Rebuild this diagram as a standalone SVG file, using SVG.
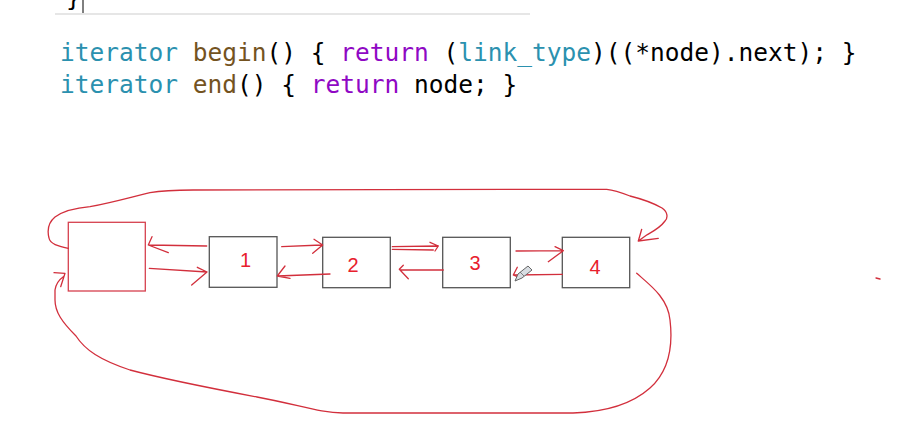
<svg xmlns="http://www.w3.org/2000/svg" width="915" height="423" viewBox="0 0 915 423">
<style>
.code{font-family:"DejaVu Sans Mono","Liberation Mono",monospace;font-size:24.5px;fill:#000}
.ty{fill:#2b91af}
.fn{fill:#74531f}
.kw{fill:#8f08c4}
.ink{fill:none;stroke:#d22f3c;stroke-width:1.3;stroke-linecap:round;stroke-linejoin:round}
.box{fill:#fff;stroke:#555;stroke-width:1.3}
.head{fill:#fff;stroke:#d6404e;stroke-width:1.3}
.num{font-family:"Liberation Sans",Arial,sans-serif;font-size:20px;fill:#e8202c;text-anchor:middle}
</style>
<rect width="915" height="423" fill="#fff"/>
<g id="editor-top">
<line x1="55" y1="14" x2="530" y2="14" stroke="#e6e6e6" stroke-width="2"/>
<text class="code" x="66" y="6">}</text>
<line x1="83" y1="0" x2="83" y2="13" stroke="#000" stroke-width="1"/>
</g>
<g id="code">
<text class="code" x="60" y="60.5" xml:space="preserve"><tspan class="ty">iterator</tspan> <tspan class="fn">begin</tspan>() { <tspan class="kw">return</tspan> (<tspan class="ty">link_type</tspan>)((*node).next); }</text>
<text class="code" x="60" y="93" xml:space="preserve"><tspan class="ty">iterator</tspan> <tspan class="fn">end</tspan>() { <tspan class="kw">return</tspan> node; }</text>
</g>
<g id="node-head"><rect class="head" x="68.3" y="222.3" width="77" height="68.7"/></g>
<g id="node-1"><rect class="box" x="209.3" y="236.7" width="67.7" height="50.6"/><text class="num" x="245.5" y="266.5">1</text></g>
<g id="node-2"><rect class="box" x="322.7" y="237.3" width="67.6" height="50.4"/><text class="num" x="353" y="272">2</text></g>
<g id="node-3"><rect class="box" x="442.7" y="237.3" width="67.6" height="50.4"/><text class="num" x="475" y="269.5">3</text></g>
<g id="node-4"><rect class="box" x="562.3" y="237.3" width="67.4" height="50.4"/><text class="num" x="595" y="274">4</text></g>
<g id="connectors">
<path class="ink" d="M206.7 246 L149 245 M152 236.7 L148.3 245 L168.3 252.7"/>
<path class="ink" d="M149.3 268.3 L207 272 M197.3 267.3 L207 272 L191.7 285"/>
<path class="ink" d="M281.7 246.7 L321.7 245 M314 239.3 L322.7 245 L312.7 253.3"/>
<path class="ink" d="M330 274 L277.3 276 M285 266 L277.3 276 L290 278.3"/>
<path class="ink" d="M392.3 246.7 L438.3 246 M392.3 249.3 L433.3 250 M430 242.3 L438.3 246 L435 251"/>
<path class="ink" d="M443.3 270 L400 270 M403.3 265.3 L399.3 269.3 L408.3 278.7"/>
<path class="ink" d="M516 251 L563.3 250.7 M555 246.7 L563.3 250.7 L548.3 261.7"/>
<path class="ink" d="M562.3 274.3 L513.3 275 M517.3 267.3 L513.3 275 L520 278"/>
<path class="ink" d="M68.3 248.3 C58 246 50 244 49 238 C47 230 49 222 55 217 C62 212 75 208 90 206.7 C115 202 135 196 150 192.7 C165 190 180 190 193.3 190 L606.7 189.3 C615 190 620 192 630 196 C642 199 655 204 662 208 C668 212 668 218 665 221 C660 228 652 232 646.7 235 L638.3 241 M641.7 229.3 L638.3 241 L658.3 238.3"/>
<path class="ink" d="M636.7 273.3 C650 285 668 298 670 320 C673 345 670 370 650 388 C632 404 605 412 573 413 L343 413 C320 413 300 405 257 397 C220 390 160 378 130 370 C100 360 85 350 76 336 C62 322 55 312 55 300 L55 290 C56 283 60 279 63.3 276.7 M54 272.7 L65 273.3 L60.7 286.7"/>
<path class="ink" d="M876 278 L880 279"/>
</g>
<g id="pencil">
<path d="M515 281 L518 274 L528 266 L532 270 L522 278 Z" fill="#d8dde2" stroke="#666" stroke-width="1"/>
<line x1="520" y1="272" x2="524" y2="276" stroke="#666" stroke-width="0.8"/>
</g>
</svg>
